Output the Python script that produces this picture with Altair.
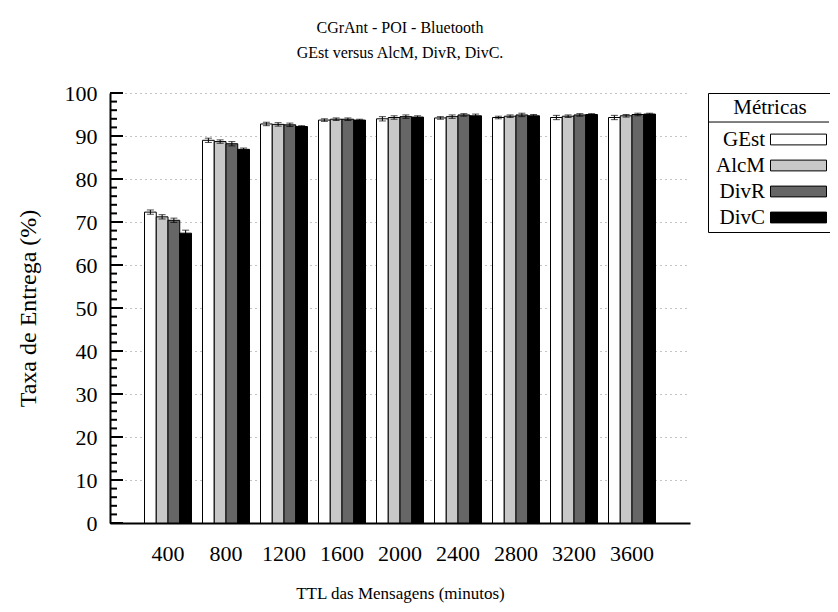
import altair as alt
import pandas as pd

SERIF = "Liberation Serif"

ttl = ["400", "800", "1200", "1600", "2000", "2400", "2800", "3200", "3600"]
series = ["GEst", "AlcM", "DivR", "DivC"]
colors = ["#ffffff", "#c8c8c8", "#666666", "#000000"]

gest = [72.3, 89.0, 92.8, 93.7, 94.0, 94.2, 94.3, 94.3, 94.3]
alcm = [71.2, 88.7, 92.7, 93.9, 94.3, 94.5, 94.6, 94.6, 94.7]
divr = [70.4, 88.2, 92.6, 93.9, 94.5, 94.9, 94.9, 94.9, 95.0]
divc = [67.4, 86.9, 92.2, 93.7, 94.4, 94.7, 94.7, 95.0, 95.1]

err_gest = [0.5, 0.5, 0.4, 0.3, 0.5, 0.3, 0.3, 0.5, 0.5]
err_alcm = [0.5, 0.4, 0.4, 0.3, 0.4, 0.4, 0.3, 0.3, 0.3]
err_divr = [0.5, 0.5, 0.4, 0.3, 0.4, 0.3, 0.4, 0.3, 0.3]
err_divc = [0.7, 0.3, 0.2, 0.2, 0.3, 0.4, 0.3, 0.2, 0.2]

y_major = list(range(0, 101, 10))
y_minor = [v for v in range(0, 101, 2) if v % 10]
legend_header_line = [93.25]

vals = [gest, alcm, divr, divc]
errs = [err_gest, err_alcm, err_divr, err_divc]
rows = []
for i, t in enumerate(ttl):
    for s, v, e in zip(series, vals, errs):
        rows.append({"ttl": t, "series": s, "value": v[i],
                     "lo": v[i] - e[i], "hi": v[i] + e[i]})
df = pd.DataFrame(rows)

x_enc = alt.X("ttl:N", sort=ttl,
              scale=alt.Scale(paddingInner=0.19, paddingOuter=0.595),
              axis=alt.Axis(title="TTL das Mensagens (minutos)", labelAngle=0,
                            ticks=False, domainWidth=2, domainColor="black",
                            labelPadding=20, titlePadding=21, titleFontSize=17))
xo_enc = alt.XOffset("series:N", sort=series,
                     scale=alt.Scale(paddingInner=0, paddingOuter=0))
y_scale = alt.Scale(domain=[0, 100], nice=False)
y_axis = alt.Axis(title="Taxa de Entrega (%)", values=y_major,
                  grid=True, gridDash=[1, 4], gridColor="#888888",
                  ticks=False, domainWidth=2, domainColor="black",
                  labelPadding=13, titlePadding=24, titleFontSize=24)

bars = alt.Chart(df).mark_bar(stroke="black", strokeWidth=1).encode(
    x=x_enc,
    xOffset=xo_enc,
    y=alt.Y("value:Q", scale=y_scale, axis=y_axis),
    color=alt.Color("series:N", sort=series,
                    scale=alt.Scale(domain=series, range=colors),
                    legend=alt.Legend(
                        title="Métricas", orient="none", legendX=598, legendY=0,
                        direction="vertical", strokeColor="black",
                        padding=4, cornerRadius=0,
                        titleFont=SERIF, titleFontSize=21,
                        titleFontWeight="normal", titleAnchor="middle",
                        titleColor="black", titlePadding=11,
                        labelFont=SERIF, labelFontSize=21, labelColor="black",
                        labelAlign="right", labelOffset={"expr": "-44"},
                        symbolType="M-4.667,-0.9H4.667V0.9H-4.667Z",
                        symbolSize=144,
                        symbolStrokeColor="black", symbolStrokeWidth=1,
                        symbolOffset=76, rowPadding=4)),
)

err_rule = alt.Chart(df).mark_rule(color="black", strokeWidth=1).encode(
    x=x_enc, xOffset=xo_enc,
    y=alt.Y("lo:Q", scale=y_scale, axis=y_axis), y2="hi:Q")
cap_lo = alt.Chart(df).mark_tick(color="black", thickness=1, size=7,
                                 orient="horizontal").encode(
    x=x_enc, xOffset=xo_enc, y=alt.Y("lo:Q", scale=y_scale, axis=y_axis))
cap_hi = alt.Chart(df).mark_tick(color="black", thickness=1, size=7,
                                 orient="horizontal").encode(
    x=x_enc, xOffset=xo_enc, y=alt.Y("hi:Q", scale=y_scale, axis=y_axis))

major = alt.Chart(pd.DataFrame({"v": y_major})).mark_rule(
    color="black", strokeWidth=2).encode(
    y=alt.Y("v:Q", scale=y_scale, axis=y_axis),
    x=alt.value(0), x2=alt.value(13))
minor = alt.Chart(pd.DataFrame({"v": y_minor})).mark_rule(
    color="black", strokeWidth=2).encode(
    y=alt.Y("v:Q", scale=y_scale, axis=y_axis),
    x=alt.value(0), x2=alt.value(7))

# thin separator under the legend header
sep = alt.Chart(pd.DataFrame({"v": legend_header_line})).mark_rule(
    color="black", strokeWidth=1, clip=False).encode(
    y=alt.Y("v:Q", scale=y_scale, axis=y_axis),
    x=alt.value(598), x2=alt.value(719))

chart = alt.layer(bars, err_rule, cap_lo, cap_hi, major, minor, sep).properties(
    width=580, height=430,
    title=alt.TitleParams(
        ["CGrAnt - POI - Bluetooth", "GEst versus AlcM, DivR, DivC."],
        font=SERIF, fontSize=16, fontWeight="normal", color="black",
        anchor="middle", offset=21, lineHeight=25),
    autosize=alt.AutoSizeParams(type="none"),
    padding={"left": 102, "top": 85, "right": 140, "bottom": 81},
).configure_axis(
    labelFont=SERIF, labelFontSize=22, labelColor="black",
    titleFont=SERIF, titleFontWeight="normal", titleColor="black",
).configure_view(stroke=None)

chart.save("out.html", embed_options={"renderer": "svg", "actions": False})
